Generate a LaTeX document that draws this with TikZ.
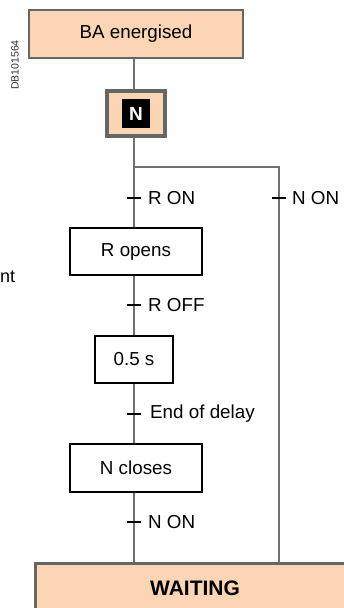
\documentclass[tikz,border=0pt]{standalone}
\usepackage{fontspec}
\setmainfont{Liberation Sans}
\definecolor{peach}{HTML}{FCD5B4}
\definecolor{edgegray}{HTML}{666666}
\definecolor{linegray}{HTML}{707070}
\begin{document}
\begin{tikzpicture}[x=1pt,y=-1pt,
  peachbox/.style={draw=edgegray,fill=peach,line width=2.5pt,inner sep=0pt,font=\fontsize{18.8}{21}\selectfont},
  whitebox/.style={draw=black,fill=white,line width=1.5pt,inner sep=0pt,font=\fontsize{18.8}{21}\selectfont},
  conn/.style={draw=linegray,line width=1.3pt},
  tick/.style={draw=black,line width=1.8pt},
  lbl/.style={anchor=west,inner sep=0pt,font=\fontsize{18.8}{21}\selectfont}]
\useasboundingbox (0,0) rectangle (344,608);
\clip (0,0) rectangle (344,608);
\fill[white] (0,0) rectangle (344,608);
% side texts
\node[rotate=90,text=black!80,font=\fontsize{10.5}{11}\selectfont,inner sep=0pt] (code) at (15,65) {DB101564};
\node[anchor=west,inner sep=0pt,font=\fontsize{18}{20}\selectfont] (frag) at (0,277) {nt};
% nodes
\node[peachbox,minimum width=214pt,minimum height=48pt] (ba) at (136,34) {BA energised};
\node[draw=edgegray,fill=peach,line width=4pt,minimum width=58pt,minimum height=45pt,inner sep=0pt] (nbox) at (136,113.5) {};
\node[fill=black,text=white,minimum width=28pt,minimum height=29pt,inner sep=0pt,font=\fontsize{19}{21}\selectfont\bfseries] (nin) at (136,113.5) {N};
\node[whitebox,minimum width=132pt,minimum height=47pt] (ropen) at (136,251.5) {R opens};
\node[whitebox,minimum width=78pt,minimum height=47pt] (delay) at (134,359.5) {0.5 s};
\node[whitebox,minimum width=132pt,minimum height=48pt] (nclose) at (136,468) {N closes};
\node[peachbox,line width=3pt,minimum width=320pt,minimum height=50pt,font=\fontsize{21}{23}\selectfont\bfseries] (wait) at (195,588) {WAITING};
% connector coordinates
\coordinate (split) at (134,167);
\coordinate (br) at (279,167);
\coordinate (brend) at (279,563);
% connectors
\draw[conn] (ba.south -| split) -- (nbox.north -| split);
\draw[conn] (nbox.south -| split) -- (split) -- (ropen.north -| split);
\draw[conn] (split) -- (br) -- (brend);
\draw[conn] (ropen.south -| split) -- (delay.north -| split);
\draw[conn] (delay.south -| split) -- (nclose.north -| split);
\draw[conn] (nclose.south -| split) -- (wait.north -| split);
% transition ticks
\coordinate (t1) at (134,198);
\coordinate (t2) at (279,198);
\coordinate (t3) at (134,305);
\coordinate (t4) at (134,414);
\coordinate (t5) at (134,522);
\foreach \t in {t1,t2,t3,t4,t5} {\draw[tick] ([xshift=-7pt]\t) -- ([xshift=7pt]\t);}
\node[lbl] (l1) at ([xshift=14pt]t1) {R ON};
\node[lbl] (l2) at ([xshift=13pt]t2) {N ON};
\node[lbl] (l3) at ([xshift=14pt]t3) {R OFF};
\node[lbl] (l4) at ([xshift=16pt]t4) {End of delay};
\node[lbl] (l5) at ([xshift=14pt]t5) {N ON};
\end{tikzpicture}
\end{document}
